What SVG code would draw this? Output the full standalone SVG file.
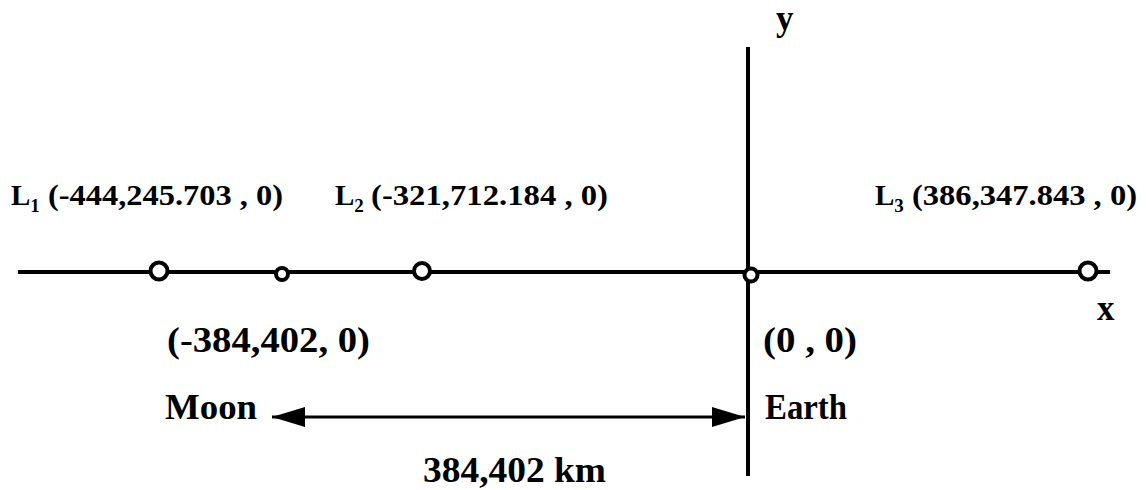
<svg xmlns="http://www.w3.org/2000/svg" width="1146" height="490" viewBox="0 0 1146 490">
<style>
text{font-family:"Liberation Serif","Times New Roman",serif;font-weight:bold;fill:#000}
.lab{font-size:29px}
.sub{font-size:19px}
.big{font-size:35px}
.ax{stroke:#000;stroke-width:4;fill:none}
.pt{stroke:#000;stroke-width:4;fill:#fff}
.dim{stroke:#000;stroke-width:3;fill:none}
</style>
<defs>
<marker id="ah" viewBox="0 0 33 20" refX="33" refY="10" markerWidth="33" markerHeight="20" markerUnits="userSpaceOnUse" orient="auto-start-reverse">
<path d="M0,0 L33,10 L0,20 Z" fill="#000"/>
</marker>
</defs>
<g id="connectors">
<line class="ax" x1="18" y1="272" x2="1110" y2="272"/>
<line class="ax" x1="748" y1="47" x2="748" y2="476"/>
<line class="dim" x1="272" y1="417" x2="745" y2="417" marker-start="url(#ah)" marker-end="url(#ah)"/>
</g>
<g id="axis-labels">
<text class="big" x="776" y="30">y</text>
<text class="big" x="1097" y="320">x</text>
</g>
<g id="L1">
<circle class="pt" cx="159" cy="271" r="8.5"/>
<text class="lab" y="205"><tspan x="11">L</tspan><tspan class="sub" dy="7">1</tspan><tspan x="48" dy="-7" textLength="235" lengthAdjust="spacingAndGlyphs">(-444,245.703 , 0)</tspan></text>
</g>
<g id="moon">
<circle class="pt" cx="282" cy="274" r="6"/>
<text class="big" x="167" y="352" textLength="203" lengthAdjust="spacingAndGlyphs">(-384,402, 0)</text>
<text class="big" x="165" y="419" textLength="92" lengthAdjust="spacingAndGlyphs">Moon</text>
</g>
<g id="L2">
<circle class="pt" cx="422" cy="271" r="8"/>
<text class="lab" y="205"><tspan x="335">L</tspan><tspan class="sub" dy="7">2</tspan><tspan x="371" dy="-7" textLength="237" lengthAdjust="spacingAndGlyphs">(-321,712.184 , 0)</tspan></text>
</g>
<g id="earth">
<circle class="pt" cx="751" cy="275" r="6.5"/>
<text class="big" x="763" y="352" textLength="94" lengthAdjust="spacingAndGlyphs">(0 , 0)</text>
<text class="big" x="765" y="419" textLength="82" lengthAdjust="spacingAndGlyphs">Earth</text>
</g>
<g id="L3">
<circle class="pt" cx="1088" cy="271" r="8.5"/>
<text class="lab" y="205"><tspan x="875">L</tspan><tspan class="sub" dy="7">3</tspan><tspan x="912" dy="-7" textLength="225" lengthAdjust="spacingAndGlyphs">(386,347.843 , 0)</tspan></text>
</g>
<g id="distance">
<text class="big" x="423" y="482" textLength="183" lengthAdjust="spacingAndGlyphs">384,402 km</text>
</g>
</svg>
